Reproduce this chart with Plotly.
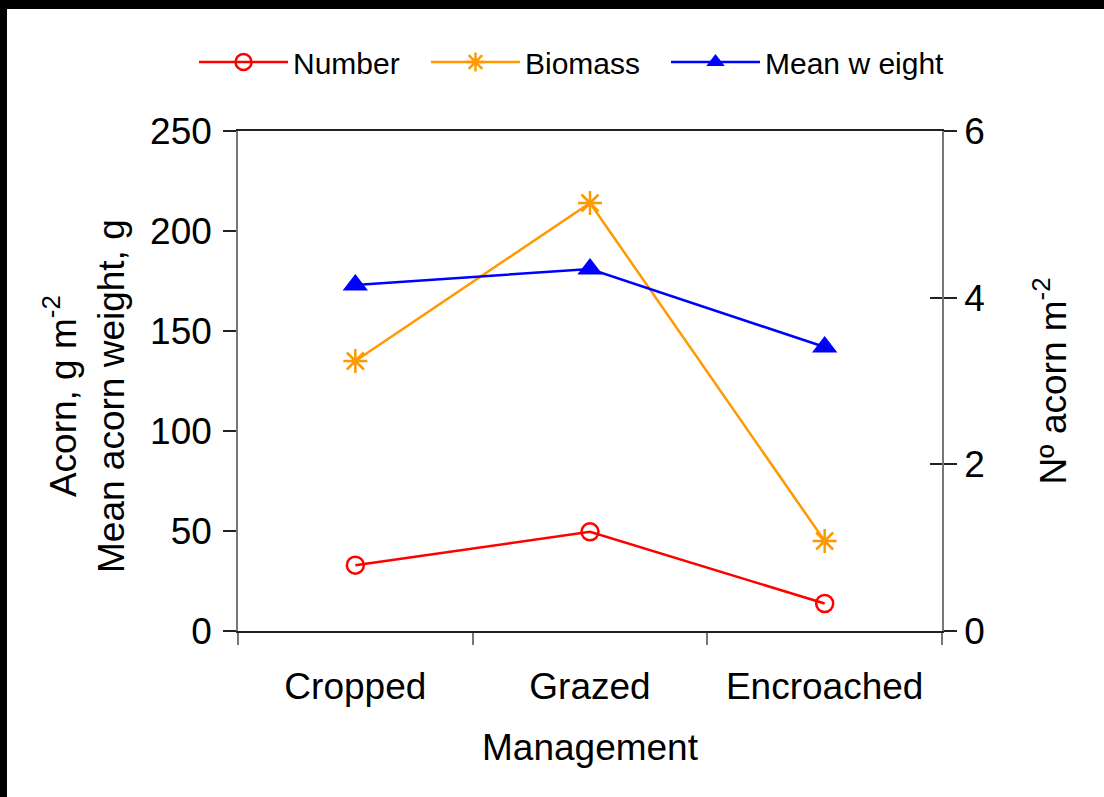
import plotly.graph_objects as go

# Acorn production by land management
management = ["Cropped", "Grazed", "Encroached"]
number_per_m2 = [0.79, 1.19, 0.33]          # right axis, Nº acorn m-2
biomass_g_m2 = [135, 214, 45]               # left axis, g m-2
mean_weight_g = [173, 181, 142]             # left axis, g

left_ticks = [0, 50, 100, 150, 200, 250]
right_ticks = [0, 2, 4, 6]

FONT = "Liberation Sans, Arial, sans-serif"
W, H = 1104, 797
L, R, T, B = 238, 162, 131, 166
pw, ph = W - L - R, H - T - B

fig = go.Figure()

fig.add_trace(go.Scatter(
    x=management, y=number_per_m2, name="Number", yaxis="y2", legend="legend",
    mode="lines+markers",
    line=dict(color="#FF0000", width=2.5),
    marker=dict(symbol="circle-open", size=17, color="#FF0000", line=dict(width=2.5)),
))
fig.add_trace(go.Scatter(
    x=management, y=biomass_g_m2, name="Biomass", yaxis="y", legend="legend2",
    mode="lines+markers",
    line=dict(color="#FF9900", width=2.5),
    marker=dict(symbol="asterisk-open", size=20, color="#FF9900", line=dict(width=2.5, color="#FF9900")),
))
fig.add_trace(go.Scatter(
    x=management, y=mean_weight_g, name="Mean w eight", yaxis="y", legend="legend3",
    mode="lines+markers",
    line=dict(color="#0000FF", width=2.5),
    marker=dict(symbol="triangle-up", size=22, color="#0000FF"),
))

# black frame bands along the top and left edges of the page
def px_x(p):
    return (p - L) / pw

def px_y(p):
    return (H - B - p) / ph

shapes = [
    dict(type="rect", xref="paper", yref="paper", x0=px_x(0), x1=px_x(W), y0=px_y(0), y1=px_y(9),
         fillcolor="black", line=dict(width=0), layer="above"),
    dict(type="rect", xref="paper", yref="paper", x0=px_x(0), x1=px_x(7), y0=px_y(H), y1=px_y(0),
         fillcolor="black", line=dict(width=0), layer="above"),
]


def legend_at(left_px):
    return dict(
        orientation="h", x=px_x(left_px), y=px_y(62), xanchor="left", yanchor="middle",
        font=dict(size=30), itemwidth=89, bgcolor="rgba(0,0,0,0)",
    )


# two-line title of the left axis, set slightly below the axis middle
left_title = dict(
    text="Acorn, g m<sup>-2</sup><br>Mean acorn weight, g",
    xref="paper", yref="paper", x=px_x(84), y=px_y(396),
    xanchor="center", yanchor="middle", textangle=-90,
    showarrow=False, font=dict(family=FONT, size=37, color="black"),
)

fig.update_layout(
    width=W, height=H,
    margin=dict(l=L, r=R, t=T, b=B, pad=0),
    paper_bgcolor="white", plot_bgcolor="white",
    font=dict(family=FONT, size=37, color="black"),
    showlegend=True,
    legend=legend_at(194),
    legend2=legend_at(426),
    legend3=legend_at(666),
    xaxis=dict(
        type="category", range=[-0.5, 2.5], tickson="boundaries",
        ticks="outside", ticklen=12, tickwidth=1.5, tickcolor="#777777",
        showline=True, linecolor="#222222", linewidth=1.5, mirror=True,
        showgrid=False, zeroline=False,
        tickfont=dict(size=37), ticklabelstandoff=22,
        title=dict(text="Management", font=dict(size=37), standoff=28),
    ),
    yaxis=dict(
        range=[0, 250], tickvals=left_ticks,
        ticks="outside", ticklen=13, tickwidth=1.5, tickcolor="#222222",
        showline=True, linecolor="#777777", linewidth=1.5,
        showgrid=False, zeroline=False,
        tickfont=dict(size=37), ticklabelstandoff=4,
    ),
    yaxis2=dict(
        overlaying="y", side="right", range=[0, 6], tickvals=right_ticks,
        ticks="outside", ticklen=13, tickwidth=1.5, tickcolor="#222222",
        showline=True, linecolor="#777777", linewidth=1.5,
        showgrid=False, zeroline=False,
        tickfont=dict(size=37),
        title=dict(text="Nº acorn m<sup>-2</sup>", font=dict(size=37), standoff=56),
    ),
    yaxis3=dict(
        overlaying="y", side="right", range=[0, 6], tickvals=right_ticks,
        ticks="inside", ticklen=12, tickwidth=1.5, tickcolor="#222222",
        showticklabels=False, showline=False, showgrid=False, zeroline=False,
    ),
    shapes=shapes,
    annotations=[left_title],
)

# an empty trace keeps the inner tick axis on the right drawn
fig.add_trace(go.Scatter(x=[], y=[], yaxis="y3", showlegend=False, hoverinfo="skip"))

fig.write_html("out.html")
